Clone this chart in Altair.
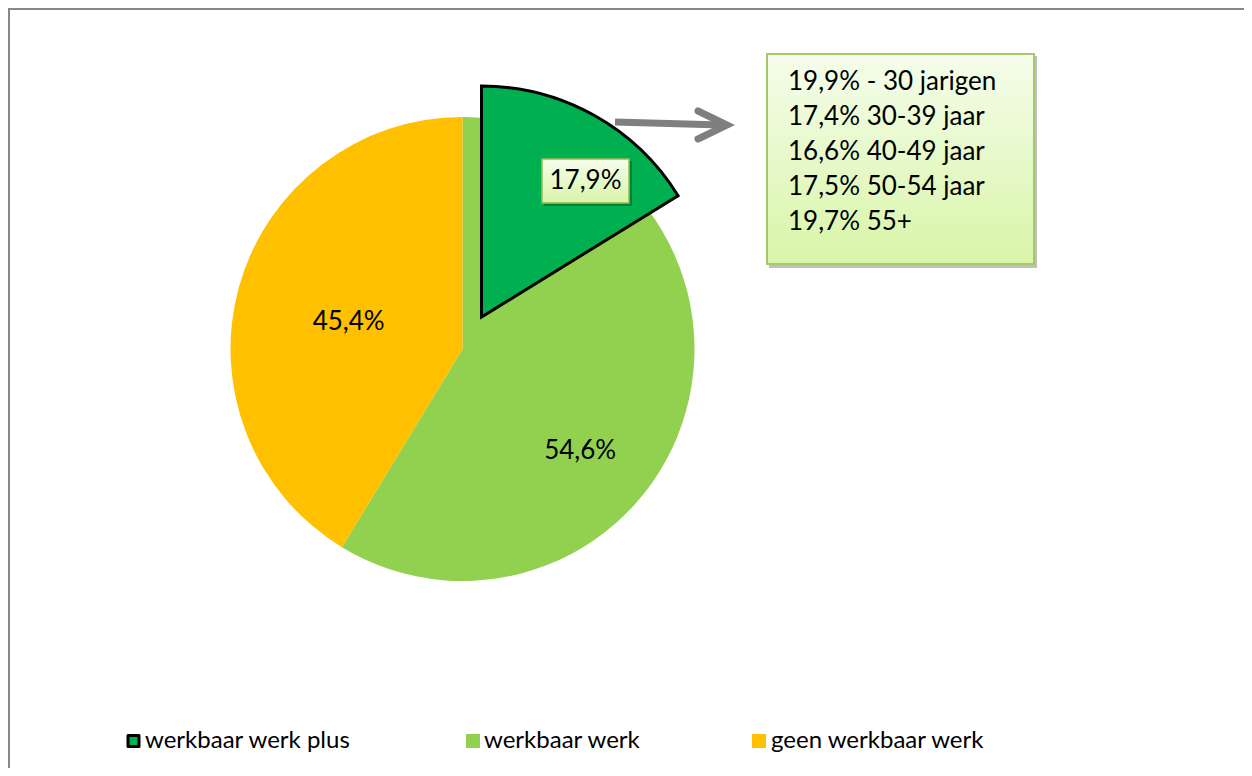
import altair as alt
import pandas as pd

# ---------------- data ----------------
categories = ["werkbaar werk plus", "werkbaar werk", "geen werkbaar werk"]
colors = ["#00b050", "#92d050", "#ffc000"]

# shares of the circle as drawn in the picture (percent)
pie_cats = ["werkbaar werk", "geen werkbaar werk"]
pie_shares = [58.7, 41.3]
plus_share = 16.2

# printed data labels
pct_text = ["54,6%", "45,4%"]
pct_pos = [36.4, 78.7]      # angular position of label (share units)
pct_rad = [156, 117]        # distance of label from pie centre (px)
plus_text = "17,9%"

age_lines = [
    "19,9% - 30 jarigen",
    "17,4% 30-39 jaar",
    "16,6% 40-49 jaar",
    "17,5% 50-54 jaar",
    "19,7% 55+",
]

# ---------------- layout ----------------
M = 8
W, H = 1236, 760
CX, CY, R = 462.5, 349.0, 232
PX, PY = 481.5, 317.0      # exploded slice centre
FONT = "Lato"
FS = 26
legend_sym_x = [133.5, 473, 759]
legend_txt_x = [145, 484, 771]
legend_y = 741

xs = alt.Scale(domain=[M, M + W], range=[0, W])
ys = alt.Scale(domain=[M, M + H], range=[0, H])
ts = alt.Scale(domain=[0, 100])
cs = alt.Scale(domain=categories, range=colors)

def X(f):
    return alt.X(f, type="quantitative", scale=xs, axis=None)

def Y(f):
    return alt.Y(f, type="quantitative", scale=ys, axis=None)

# base pie
pie_df = pd.DataFrame({"cat": pie_cats, "share": pie_shares, "ord": [0, 1],
                       "cx": [CX] * 2, "cy": [CY] * 2})
pie = alt.Chart(pie_df).mark_arc(radius=R).encode(
    theta=alt.Theta("share:Q", stack=True, scale=ts),
    color=alt.Color("cat:N", scale=cs, legend=None),
    order=alt.Order("ord:Q"),
    x=X("cx"), y=Y("cy"),
)

# exploded slice
plus_df = pd.DataFrame({"cat": [categories[0]], "share": [plus_share],
                        "cx": [PX], "cy": [PY]})
plus = alt.Chart(plus_df).mark_arc(radius=R - 1, stroke="black", strokeWidth=3,
                                  strokeJoin="miter").encode(
    theta=alt.Theta("share:Q", stack=True, scale=ts),
    color=alt.Color("cat:N", scale=cs, legend=None),
    x=X("cx"), y=Y("cy"),
)

# pie labels
lab_df = pd.DataFrame({"t": pct_text, "pos": pct_pos, "r": pct_rad,
                       "cx": [CX] * 2, "cy": [CY] * 2})
labels = alt.Chart(lab_df).mark_text(font=FONT, fontSize=FS, color="black",
                                     baseline="middle", align="center").encode(
    theta=alt.Theta("pos:Q", scale=ts),
    radius=alt.Radius("r:Q", scale=None),
    x=X("cx"), y=Y("cy"), text="t:N",
)

green_grad = alt.LinearGradient(
    gradient="linear", x1=0, x2=0, y1=0, y2=1,
    stops=[alt.GradientStop(color="#f5fdeb", offset=0),
           alt.GradientStop(color="#d8f5a8", offset=1)])

# label box for 17,9%
pb_df = pd.DataFrame({"x": [542], "x2": [629], "y": [159], "y2": [203],
                      "t": [plus_text], "tx": [585.5], "ty": [181]})
pb_shadow = alt.Chart(pb_df).mark_rect(fill="#000000", opacity=0.25).encode(
    x=X("sx"), x2="sx2", y=Y("sy"), y2="sy2").transform_calculate(
    sx="datum.x + 2", sx2="datum.x2 + 3", sy="datum.y + 2", sy2="datum.y2 + 3")
pb_rect = alt.Chart(pb_df).mark_rect(fill=green_grad, stroke="#9bbb59",
                                     strokeWidth=1.5).encode(
    x=X("x"), x2="x2", y=Y("y"), y2="y2")
pb_text = alt.Chart(pb_df).mark_text(font=FONT, fontSize=FS, color="black",
                                     baseline="middle", align="center").encode(
    x=X("tx"), y=Y("ty"), text="t:N")

# big info box
bb_df = pd.DataFrame({"x": [767], "x2": [1034], "y": [54], "y2": [264]})
bb_shadow = alt.Chart(bb_df).mark_rect(fill="#000000", opacity=0.25).encode(
    x=X("sx"), x2="sx2", y=Y("sy"), y2="sy2").transform_calculate(
    sx="datum.x + 2", sx2="datum.x2 + 3", sy="datum.y + 2", sy2="datum.y2 + 4")
bb_rect = alt.Chart(bb_df).mark_rect(fill=green_grad, stroke="#a6c76c",
                                     strokeWidth=2).encode(
    x=X("x"), x2="x2", y=Y("y"), y2="y2")
age_df = pd.DataFrame({"t": age_lines, "i": list(range(len(age_lines)))})
age_text = alt.Chart(age_df).mark_text(font=FONT, fontSize=FS, color="black",
                                       baseline="middle", align="left").encode(
    x=alt.X("tx:Q", scale=xs, axis=None), y=alt.Y("ty:Q", scale=ys, axis=None),
    text="t:N").transform_calculate(tx="788", ty="82 + 34.9 * datum.i")

# arrow
shaft_df = pd.DataFrame({"x": [615], "y": [122], "x2": [722], "y2": [125]})
shaft = alt.Chart(shaft_df).mark_rule(color="#7f7f7f", strokeWidth=7,
                                      strokeCap="butt").encode(
    x=X("x"), y=Y("y"), x2="x2", y2="y2")
head_df = pd.DataFrame({"x": [698, 727, 698], "y": [111, 125, 139], "o": [0, 1, 2]})
head = alt.Chart(head_df).mark_line(color="#7f7f7f", strokeWidth=7,
                                    strokeCap="round", strokeJoin="miter").encode(
    x=X("x"), y=Y("y"), order="o:Q")

# legend (drawn by hand)
leg_df = pd.DataFrame({"cat": categories, "sx": legend_sym_x, "tx": legend_txt_x,
                       "y": [legend_y] * 3})
is_plus = alt.datum.cat == categories[0]
leg_sym = alt.Chart(leg_df).mark_square(opacity=1, strokeWidth=3, strokeJoin="round").encode(
    x=X("sx"), y=Y("y"),
    fill=alt.Color("cat:N", scale=cs, legend=None),
    stroke=alt.condition(is_plus, alt.value("black"), alt.value("transparent")),
    size=alt.condition(is_plus, alt.value(121), alt.value(196)),
)
leg_txt = alt.Chart(leg_df).mark_text(font=FONT, fontSize=24, color="black",
                                      baseline="middle", align="left").encode(
    x=X("tx"), y=Y("y"), text="cat:N")

# outer frame (top and left edges visible)
frame_df = pd.DataFrame({"x": [8, 9], "y": [9, 8], "x2": [1244, 9], "y2": [9, 768]})
frame = alt.Chart(frame_df).mark_rule(color="#878787", strokeWidth=2).encode(
    x=X("x"), y=Y("y"), x2="x2", y2="y2")

chart = alt.layer(
    frame, pie, plus, labels, pb_shadow, pb_rect, pb_text,
    shaft, head, bb_shadow, bb_rect, age_text, leg_sym, leg_txt,
).properties(
    width=W, height=H, padding=0,
    autosize=alt.AutoSizeParams(type="none"),
    background="white",
).configure_view(stroke=None)

chart.save("out.html", embed_options={"renderer": "svg", "actions": False})
